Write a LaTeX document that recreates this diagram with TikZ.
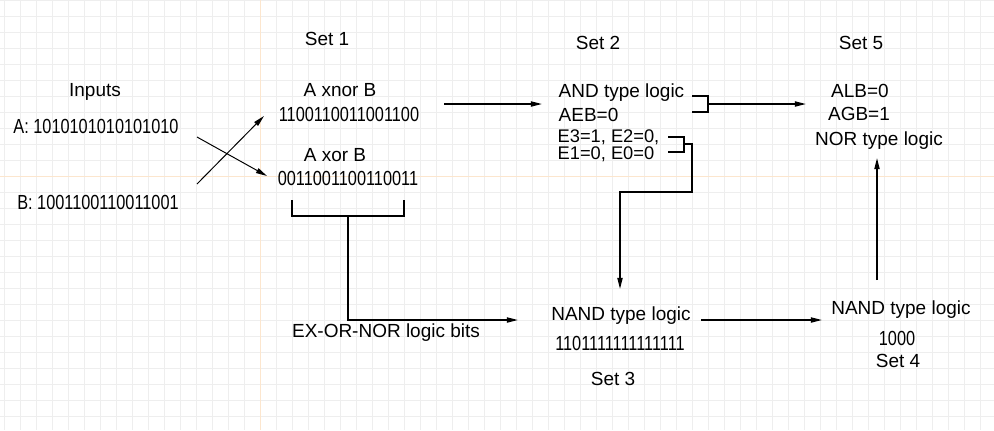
\documentclass[tikz,border=0pt]{standalone}
\usepackage{fontspec}
\setmainfont{Liberation Sans}
\usetikzlibrary{arrows.meta}
\definecolor{gridgray}{RGB}{238,238,238}
\definecolor{gridorange}{RGB}{252,230,206}

\begin{document}
\begin{tikzpicture}[x=0.025cm, y=-0.025cm, line width=1pt,
  txt/.style={anchor=base, inner sep=0pt, font=\fontsize{13.5}{16}\selectfont},
  bits/.style={txt, font=\fontsize{14.5}{17}\selectfont, xscale=0.8, transform shape},
  lft/.style={txt, anchor=base west},
  a/.style={-{Triangle[length=2.8mm, width=1.3mm]}}]

  \useasboundingbox (0,0) rectangle (994,430);

  % background grid
  \fill[white] (0,0) rectangle (994,430);
  \foreach \gx in {4,20,...,980}
    \draw[gridgray, line width=0.6pt] (\gx,0) -- (\gx,430);
  \foreach \gy in {0,16,...,416}
    \draw[gridgray, line width=0.6pt] (0,\gy) -- (994,\gy);
  \draw[gridorange, line width=0.6pt] (260,0) -- (260,430);
  \draw[gridorange, line width=0.6pt] (0,176) -- (994,176);

  % inputs
  \node[txt] (inputs) at (95,96.5) {Inputs};
  \node[bits] (ina) at (96,133.3) {A: 1010101010101010};
  \node[bits] (inb) at (98,209.3) {B: 1001100110011001};

  % set 1
  \node[txt] (set1) at (327,45.5) {Set 1};
  \node[txt] (xnorlbl) at (340,96.5) {A xnor B};
  \node[bits] (xnorbits) at (349,121.5) {1100110011001100};
  \node[txt] (xorlbl) at (335,161.5) {A xor B};
  \node[bits] (xorbits) at (348,185) {0011001100110011};
  \node[txt] (exnor) at (386,337) {EX-OR-NOR logic bits};

  % set 2
  \node[txt] (set2) at (598,49) {Set 2};
  \node[lft] (andlbl) at (558,97.5) {AND type logic};
  \node[lft] (aeb) at (558,121.5) {AEB=0};
  \node[lft, font=\fontsize{13}{15}\selectfont, text depth=0pt] (e32) at (557,142.5) {E3=1, E2=0,};
  \node[lft, font=\fontsize{13}{15}\selectfont] (e10) at (557,159) {E1=0, E0=0};

  % set 5
  \node[txt] (set5) at (861,49) {Set 5};
  \node[txt] (alb) at (860,97) {ALB=0};
  \node[txt] (agb) at (859,120.7) {AGB=1};
  \node[txt] (norlbl) at (879,145.5) {NOR type logic};

  % set 3 and set 4
  \node[txt] (nand3) at (621,320.5) {NAND type logic};
  \node[bits] (bits3) at (620,350.5) {1101111111111111};
  \node[txt] (set3) at (613,385) {Set 3};
  \node[txt] (nand4) at (901,314) {NAND type logic};
  \node[bits] (bits4) at (897,345) {1000};
  \node[txt] (set4) at (898,367) {Set 4};

  % connector ends
  \coordinate (axo) at (197,137);
  \coordinate (bxo) at (197,184);
  \coordinate (xnorin) at (264,116);
  \coordinate (xorin) at (267,176);
  \coordinate (xnorout) at (444,104);
  \coordinate (andin) at (542,104);
  \coordinate (xl) at (292,200);
  \coordinate (xr) at (404,200);
  \coordinate (xm) at (348,216);
  \coordinate (exin) at (518,320);
  \coordinate (b1t) at (692,96);
  \coordinate (b1b) at (692,112);
  \coordinate (b1m) at (708,104);
  \coordinate (set5in) at (806,104);
  \coordinate (b2t) at (668,137);
  \coordinate (b2b) at (668,152);
  \coordinate (b2m) at (684,144);
  \coordinate (turn) at (620,192);
  \coordinate (nand3in) at (620,289);
  \coordinate (n3out) at (701,320);
  \coordinate (n4in) at (822,320);
  \coordinate (n4up) at (877,280);
  \coordinate (norin) at (877,158);

  % crossing inputs
  \draw[a, line width=0.7pt] (axo) -- (xorin);
  \draw[a, line width=0.7pt] (bxo) -- (xnorin);

  % set 1 -> set 2, set 3
  \draw[a] (xnorout) -- (andin);
  \draw (xl) |- (xm) -| (xr);
  \draw[a] (xm) |- (exin);

  % set 2 brackets
  \draw (b1t) -| (b1m |- b1b) -- (b1b);
  \draw[a] (b1m) -- (set5in);
  \draw (b2t) -| (b2m |- b2b) -- (b2b);
  \draw[a] (b2m) -- ++(8,0) |- (turn) -- (nand3in);

  % set 3 -> set 4 -> set 5
  \draw[a] (n3out) -- (n4in);
  \draw[a] (n4up) -- (norin);

\end{tikzpicture}
\end{document}
